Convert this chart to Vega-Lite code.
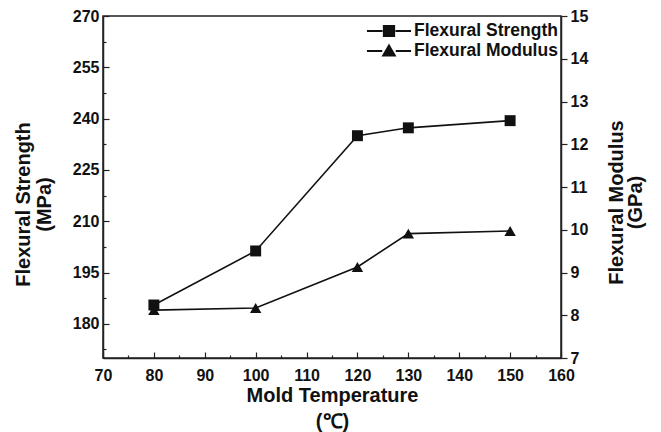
{
  "$schema": "https://vega.github.io/schema/vega-lite/v6.json",
  "width": 458,
  "height": 342,
  "autosize": {"type": "none"},
  "padding": {"left": 103, "top": 16, "right": 100, "bottom": 74},
  "background": "white",
  "config": {
    "font": "Liberation Sans",
    "view": {"stroke": "#222", "strokeWidth": 1.5},
    "axis": {
      "labelFont": "Liberation Sans",
      "labelFontWeight": "bold",
      "labelFontSize": 16,
      "labelColor": "#111",
      "titleFont": "Liberation Sans",
      "titleFontWeight": "bold",
      "titleFontSize": 20,
      "titleColor": "#111",
      "domainColor": "#222",
      "domainWidth": 1.5,
      "tickColor": "#222",
      "tickWidth": 1.2,
      "grid": false
    }
  },
  "data": {
    "values": [
      {"temp": 80, "strength": 185.5, "modulus": 8.12},
      {"temp": 100, "strength": 201.3, "modulus": 8.17},
      {"temp": 120, "strength": 235.0, "modulus": 9.13},
      {"temp": 130, "strength": 237.3, "modulus": 9.91},
      {"temp": 150, "strength": 239.4, "modulus": 9.97}
    ]
  },
  "encoding": {
    "x": {
      "field": "temp",
      "type": "quantitative",
      "scale": {"domain": [70, 160], "nice": false, "zero": false},
      "axis": {
        "title": ["Mold Temperature", "(℃)"],
        "titleLineHeight": 26,
        "titleBaseline": "alphabetic",
        "titleY": 43,
        "values": [70, 75, 80, 85, 90, 95, 100, 105, 110, 115, 120, 125, 130, 135, 140, 145, 150, 155, 160],
        "labelExpr": "datum.value % 10 === 0 ? datum.label : ''",
        "tickSize": {"condition": {"test": "datum.value % 10 === 0", "value": -6}, "value": -3},
        "labelPadding": 15,
        "labelFlush": false
      }
    }
  },
  "layer": [
    {
      "encoding": {
        "y": {
          "field": "strength",
          "type": "quantitative",
          "scale": {"domain": [170, 270], "nice": false, "zero": false},
          "axis": {
            "orient": "left",
            "title": ["Flexural Strength", "(MPa)"],
            "titleLineHeight": 21,
            "titleAngle": -90,
            "titleY": 188,
            "titleX": -80,
            "titleAlign": "center",
            "titleBaseline": "middle",
            "values": [172.5, 180, 187.5, 195, 202.5, 210, 217.5, 225, 232.5, 240, 247.5, 255, 262.5, 270],
            "labelExpr": "datum.value % 15 === 0 ? datum.label : ''",
            "tickSize": {"condition": {"test": "datum.value % 15 === 0", "value": -6}, "value": -3},
            "labelPadding": 10,
            "labelFlush": false
          }
        }
      },
      "layer": [
        {"mark": {"type": "line", "color": "#111", "strokeWidth": 1.6}},
        {
          "mark": {"type": "point", "shape": "square", "filled": true, "opacity": 1, "size": 120},
          "encoding": {
            "color": {
              "datum": "Flexural Strength",
              "type": "nominal",
              "scale": {"domain": ["Flexural Strength", "Flexural Modulus"], "range": ["#111", "#111"]},
              "legend": {
                "title": null,
                "orient": "none",
                "legendX": 276,
                "legendY": 5,
                "padding": 0,
                "labelFont": "Liberation Sans",
                "labelFontWeight": "bold",
                "labelFontSize": 17.5,
                "labelColor": "#111",
                "symbolSize": 324,
                "symbolStrokeWidth": 1.8,
                "rowPadding": 1,
                "labelOffset": 15,
                "encoding": {
                  "symbols": {
                    "shape": {
                      "condition": {"test": "datum.value === 'Flexural Strength'", "value": "M-2.45,0H-0.72M0.72,0H2.45M-0.58,-0.58H0.58V0.58H-0.58Z"},
                      "value": "M-2.45,0H-0.75M0.75,0H2.45M0,-0.62L0.66,0.52H-0.66Z"
                    },
                    "fill": {"value": "#111"},
                    "stroke": {"value": "#111"},
                    "strokeWidth": {"value": 1.8}
                  }
                }
              }
            }
          }
        }
      ]
    },
    {
      "encoding": {
        "y": {
          "field": "modulus",
          "type": "quantitative",
          "scale": {"domain": [7, 15], "nice": false, "zero": false},
          "axis": {
            "orient": "right",
            "title": ["Flexural Modulus", "(GPa)"],
            "titleLineHeight": 19,
            "titleAngle": -90,
            "titleY": 186,
            "titleX": 55,
            "titleAlign": "center",
            "titleBaseline": "middle",
            "format": "d",
            "values": [7, 7.5, 8, 8.5, 9, 9.5, 10, 10.5, 11, 11.5, 12, 12.5, 13, 13.5, 14, 14.5, 15],
            "labelExpr": "datum.value % 1 === 0 ? datum.label : ''",
            "tickSize": {"condition": {"test": "datum.value % 1 === 0", "value": 6}, "value": 3},
            "labelPadding": 3,
            "labelFlush": false
          }
        }
      },
      "layer": [
        {"mark": {"type": "line", "color": "#111", "strokeWidth": 1.6}},
        {
          "mark": {"type": "point", "shape": "triangle-up", "filled": true, "opacity": 1, "size": 130},
          "encoding": {
            "color": {"datum": "Flexural Modulus", "type": "nominal"}
          }
        }
      ]
    }
  ],
  "resolve": {"scale": {"y": "independent"}}
}
